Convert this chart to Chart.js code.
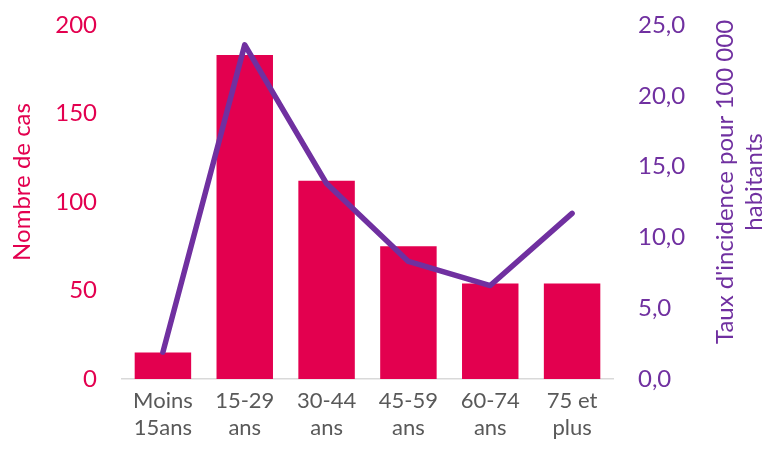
<!DOCTYPE html>
<html lang="fr">
<head>
<meta charset="utf-8">
<script src="https://cdn.jsdelivr.net/npm/chart.js@4/dist/chart.umd.min.js"></script>
<style>
  html, body { margin: 0; padding: 0; background: #ffffff; }
  #wrap { width: 769px; height: 450px; }
</style>
</head>
<body>
<div id="wrap"><canvas id="chart" width="769" height="450"></canvas></div>
<script>
// Tranches d'âge
const categories = [
  ['Moins', '15ans'],
  ['15-29', 'ans'],
  ['30-44', 'ans'],
  ['45-59', 'ans'],
  ['60-74', 'ans'],
  ['75 et', 'plus']
];
// Nombre de cas par tranche d'âge (axe gauche)
const nombreCas = [15, 183, 112, 75, 54, 54];
// Taux d'incidence pour 100 000 habitants (axe droit)
const tauxIncidence = [1.9, 23.6, 13.8, 8.3, 6.6, 11.7];

const leftTitle = 'Nombre de cas';
const rightTitle = ["Taux d'incidence pour 100 000", 'habitants'];

const PINK = '#E3004F';
const PURPLE = '#7030A0';
const GREY = '#595959';
const FONT = 'Lato, "Open Sans", sans-serif';

// Axis titles drawn bottom-to-top on both sides
const axisTitles = {
  id: 'axisTitles',
  afterDraw(chart) {
    const ctx = chart.ctx;
    const mid = 182;
    ctx.save();
    ctx.font = '24px ' + FONT;
    ctx.textAlign = 'center';
    ctx.textBaseline = 'middle';
    ctx.fillStyle = PINK;
    ctx.translate(22, mid);
    ctx.rotate(-Math.PI / 2);
    ctx.fillText(leftTitle, 0, 0);
    ctx.restore();

    ctx.save();
    ctx.font = '24px ' + FONT;
    ctx.textAlign = 'center';
    ctx.textBaseline = 'middle';
    ctx.fillStyle = PURPLE;
    ctx.translate(740, mid);
    ctx.rotate(-Math.PI / 2);
    ctx.fillText(rightTitle[0], 0, -15);
    ctx.fillText(rightTitle[1], 0, 14);
    ctx.restore();
  }
};

function fixVertical(width) {
  return (scale) => {
    scale.width = width;
    scale.paddingTop = 0;
    scale.paddingBottom = 0;
  };
}

new Chart(document.getElementById('chart'), {
  data: {
    labels: categories,
    datasets: [
      {
        type: 'line',
        label: 'Taux d\'incidence',
        data: tauxIncidence,
        yAxisID: 'y1',
        borderColor: PURPLE,
        borderWidth: 5.5,
        pointRadius: 0,
        tension: 0,
        borderCapStyle: 'round',
        borderJoinStyle: 'round',
        order: 0
      },
      {
        type: 'bar',
        label: 'Nombre de cas',
        data: nombreCas,
        yAxisID: 'y',
        backgroundColor: PINK,
        categoryPercentage: 1,
        barPercentage: 0.69,
        order: 1
      }
    ]
  },
  options: {
    responsive: false,
    animation: false,
    layout: { padding: { top: 25, bottom: 0, left: 0, right: 0 } },
    plugins: {
      legend: { display: false },
      tooltip: { enabled: false }
    },
    scales: {
      x: {
        grid: { display: false, drawTicks: false },
        border: { display: true, color: '#D9D9D9', width: 1.5 },
        ticks: {
          color: GREY,
          font: { family: FONT, size: 22, lineHeight: 1.2 },
          padding: 9,
          maxRotation: 0,
          autoSkip: false
        },
        afterFit(scale) {
          scale.height = 71;
          scale.paddingLeft = 0;
          scale.paddingRight = 0;
        }
      },
      y: {
        position: 'left',
        min: 0,
        max: 200,
        grid: { display: false, drawTicks: false },
        border: { display: false },
        ticks: {
          stepSize: 50,
          color: PINK,
          padding: 25,
          font: { family: FONT, size: 24 }
        },
        afterFit: fixVertical(122)
      },
      y1: {
        position: 'right',
        min: 0,
        max: 25,
        grid: { display: false, drawTicks: false },
        border: { display: false },
        ticks: {
          stepSize: 5,
          color: PURPLE,
          padding: 25,
          font: { family: FONT, size: 24 },
          callback: (v) => v.toFixed(1).replace('.', ',')
        },
        afterFit: fixVertical(156)
      }
    }
  },
  plugins: [axisTitles]
});
</script>
</body>
</html>
